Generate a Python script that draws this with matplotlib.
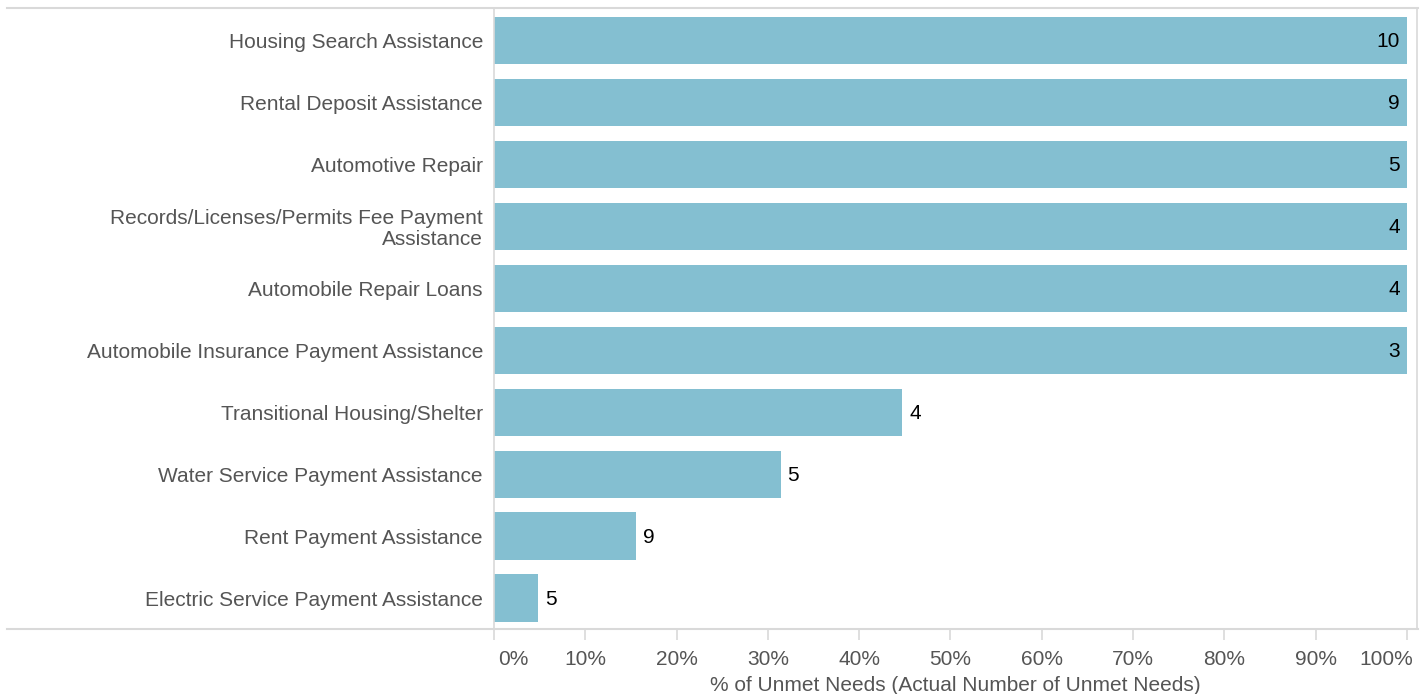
import matplotlib.pyplot as plt
from matplotlib.lines import Line2D
from matplotlib.transforms import ScaledTranslation

plt.rcParams['font.family'] = ['Liberation Sans', 'DejaVu Sans']

categories = [
    "Housing Search Assistance",
    "Rental Deposit Assistance",
    "Automotive Repair",
    "Records/Licenses/Permits Fee Payment\nAssistance",
    "Automobile Repair Loans",
    "Automobile Insurance Payment Assistance",
    "Transitional Housing/Shelter",
    "Water Service Payment Assistance",
    "Rent Payment Assistance",
    "Electric Service Payment Assistance",
]
pct_unmet = [100, 100, 100, 100, 100, 100, 44.7, 31.4, 15.6, 4.8]
n_unmet = [10, 9, 5, 4, 4, 3, 4, 5, 9, 5]
ticks = [0, 10, 20, 30, 40, 50, 60, 70, 80, 90, 100]

bar_color = "#84bfd1"
grey = "#555555"
line_grey = "#d9d9d9"

fig = plt.figure(figsize=(14.26, 6.94), dpi=100)
ax = fig.add_axes([494 / 1426, 1 - 629 / 694, 923 / 1426, 621 / 694])

y = list(range(len(categories)))
ax.barh(y, pct_unmet, height=0.76, color=bar_color)
ax.set_ylim(len(categories) - 0.5, -0.52)
ax.set_xlim(0, 101.1)

for yi, p, n in zip(y, pct_unmet, n_unmet):
    if p >= 99:
        ax.annotate(str(n), (p, yi), xytext=(-5, -1), textcoords="offset points",
                    ha="right", va="center", fontsize=15, color="black")
    else:
        ax.annotate(str(n), (p, yi), xytext=(5, -1), textcoords="offset points",
                    ha="left", va="center", fontsize=15, color="black")

ax.set_yticks(y)
ax.set_yticklabels(categories, fontsize=15, color=grey, ha="right",
                   multialignment="right", linespacing=1.1)
ax.tick_params(axis="y", length=0, pad=8)

ax.set_xticks(ticks)
ax.tick_params(axis="x", length=8, width=1.2, color=line_grey, pad=7)
labels = ax.set_xticklabels([f"{t}%" for t in ticks], fontsize=15, color=grey)
# end labels pulled inside, like the original
labels[0].set_ha("left")
labels[0].set_transform(labels[0].get_transform()
                        + ScaledTranslation(0.04, 0, fig.dpi_scale_trans))
labels[-1].set_ha("right")
labels[-1].set_transform(labels[-1].get_transform()
                         + ScaledTranslation(0.06, 0, fig.dpi_scale_trans))
ax.set_xlabel("% of Unmet Needs (Actual Number of Unmet Needs)", fontsize=15,
              color=grey, labelpad=5)

for s in ["top", "bottom"]:
    ax.spines[s].set_visible(False)
for s in ["left", "right"]:
    ax.spines[s].set_color(line_grey)
    ax.spines[s].set_linewidth(1.2)

# frame lines running across the label area
fig.add_artist(Line2D([7 / 1426, 1418 / 1426], [1 - 8 / 694, 1 - 8 / 694],
                      color=line_grey, lw=1.5))
fig.add_artist(Line2D([7 / 1426, 1418 / 1426], [1 - 629 / 694, 1 - 629 / 694],
                      color=line_grey, lw=1.5))

fig.savefig("out.png", dpi=100)
